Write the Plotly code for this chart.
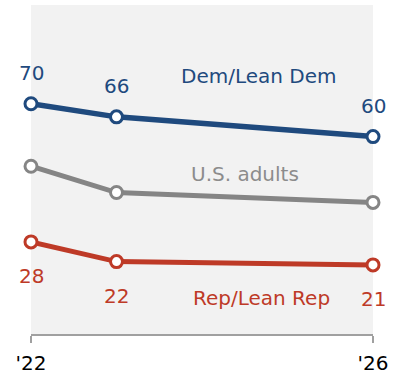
import plotly.graph_objects as go

years = [2022, 2023, 2026]
tick_vals = [2022, 2026]
tick_text = ["'22", "'26"]

dem = [70, 66, 60]
us_adults = [51, 43, 40]
rep = [28, 22, 21]

series_names = ["Dem/Lean Dem", "U.S. adults", "Rep/Lean Rep"]

BLUE = "#1f4a7e"
GRAY = "#858585"
RED = "#be3a27"
FONT = "DejaVu Sans"

fig = go.Figure()

for vals, col, w in [(us_adults, GRAY, 5), (rep, RED, 5), (dem, BLUE, 5.5)]:
    fig.add_trace(go.Scatter(
        x=years, y=vals, mode="lines+markers",
        line=dict(color=col, width=w),
        marker=dict(size=12, color="white", line=dict(color=col, width=3)),
        cliponaxis=False, hoverinfo="skip", showlegend=False,
    ))

annotations = []
for xv, v in zip(years, dem):
    annotations.append(dict(x=xv, y=v, text=str(v), showarrow=False, yshift=31,
                            font=dict(family=FONT, size=20, color=BLUE)))
for xv, v in zip(years, rep):
    annotations.append(dict(x=xv, y=v, text=str(v), showarrow=False, yshift=-34,
                            font=dict(family=FONT, size=20, color=RED)))

annotations += [
    dict(x=2024.67, y=78.3, text=series_names[0], showarrow=False,
         font=dict(family=FONT, size=20, color=BLUE)),
    dict(x=2024.50, y=48.5, text=series_names[1], showarrow=False,
         font=dict(family=FONT, size=20, color="#8c8c8c")),
    dict(x=2024.70, y=11.0, text=series_names[2], showarrow=False,
         font=dict(family=FONT, size=20, color=RED)),
]

fig.update_layout(
    width=400, height=375,
    margin=dict(l=31, r=27, t=5, b=41, autoexpand=False),
    paper_bgcolor="white",
    plot_bgcolor="#f2f2f2",
    annotations=annotations,
    xaxis=dict(range=[2022, 2026], tickvals=tick_vals, ticktext=tick_text,
               showgrid=False, zeroline=False, showline=True,
               linecolor="#a0a0a0", linewidth=2,
               ticks="outside", ticklen=7, tickwidth=2, tickcolor="#a0a0a0",
               ticklabelstandoff=3, automargin=False,
               tickfont=dict(family=FONT, size=20, color="black"),
               fixedrange=True),
    yaxis=dict(range=[0, 100], visible=False, fixedrange=True, automargin=False),
)

fig.write_html("out.html", config={"displayModeBar": False})
